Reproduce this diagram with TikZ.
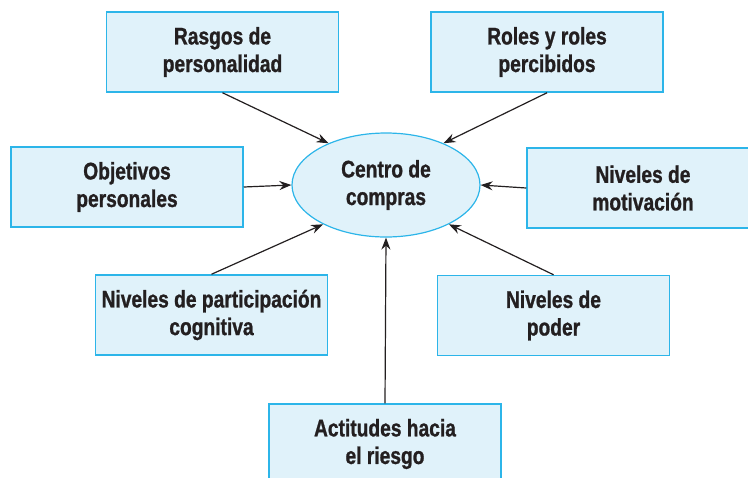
\documentclass[tikz,border=0pt]{standalone}
\usepackage{fontspec}
\setmainfont{Liberation Sans Bold}[FakeStretch=0.8, FakeBold=1]
\usepackage{tikz}
\usetikzlibrary{shapes.geometric}
\usetikzlibrary{arrows.meta}
\definecolor{cajafondo}{HTML}{E0F2FA}
\definecolor{cajaborde}{HTML}{2CB5E9}
\definecolor{texto}{HTML}{231F20}
\tikzset{
  caja/.style={draw=cajaborde, fill=cajafondo, line width=0.75pt, minimum width=116pt, minimum height=40pt, inner sep=0pt, align=center, text=texto, font=\fontsize{12}{13.8}\selectfont},
  centro/.style={ellipse, draw=cajaborde, fill=cajafondo, line width=0.6pt, minimum width=94pt, minimum height=52pt, inner sep=0pt, align=center, text=texto, font=\fontsize{12}{13.8}\selectfont},
  flecha/.style={-{Stealth[length=6pt, width=4.5pt, inset=2pt]}, line width=0.6pt, draw=texto}
}

\begin{document}
\begin{tikzpicture}[x=0.5pt, y=-0.5pt]
\useasboundingbox (0,0) rectangle (748,477);
\clip (0,0) rectangle (748,477);
\node[centro] (cc) at (386,185) {Centro de\\compras};
\node[caja] (rasgos) at (222.5,52) {Rasgos de\\personalidad};
\node[caja] (roles) at (547,52) {Roles y roles\\percibidos};
\node[caja] (objetivos) at (127,187) {Objetivos\\personales};
\node[caja] (motivacion) at (643,188) {Niveles de\\motivación};
\node[caja] (participacion) at (211.5,315) {Niveles de participación\\cognitiva};
\node[caja] (poder) at (553.5,315.5) {Niveles de\\poder};
\node[caja] (actitudes) at (385,444) {Actitudes hacia\\el riesgo};
\draw[flecha] (rasgos.south) -- (cc.144);
\draw[flecha] (roles.south) -- (cc.36);
\draw[flecha] (objetivos.east) -- (cc.west);
\draw[flecha] (motivacion.west) -- (cc.east);
\draw[flecha] (participacion.north) -- (cc.212);
\draw[flecha] (poder.north) -- (cc.328);
\draw[flecha] (actitudes.north) -- (cc.south);
\end{tikzpicture}
\end{document}
